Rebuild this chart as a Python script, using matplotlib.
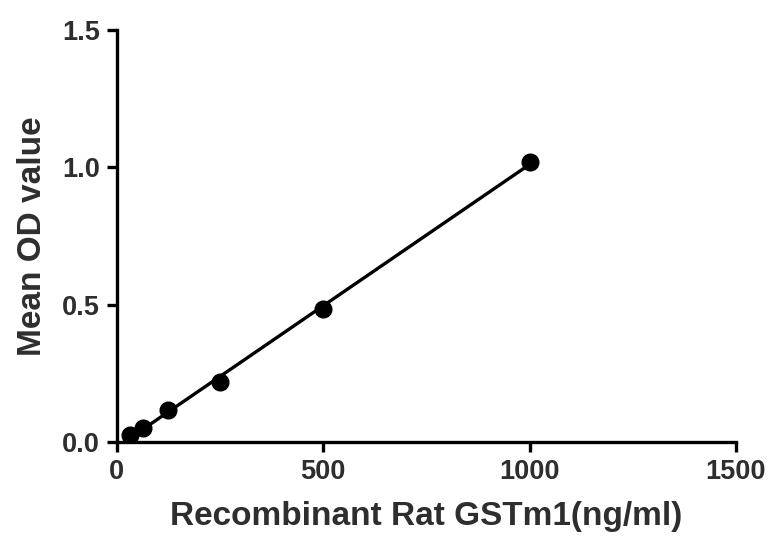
import numpy as np
import matplotlib.pyplot as plt

plt.rcParams['font.family'] = ['Liberation Sans', 'DejaVu Sans']

# Standard curve data
conc = [31.25, 62.5, 125, 250, 500, 1000]   # ng/ml
od = [0.025, 0.05, 0.115, 0.22, 0.485, 1.02]

xticks = [0, 500, 1000, 1500]
yticks = [0.0, 0.5, 1.0, 1.5]

# linear fit through the points
k, b = np.polyfit(conc, od, 1)
xf = np.array([min(conc), max(conc)])

fig = plt.figure(figsize=(7.69, 5.39), dpi=100)
ax = fig.add_axes([0.152, 0.180, 0.805, 0.764])

ax.plot(xf, k * xf + b, color='black', lw=2.4, zorder=2)
ax.plot(conc, od, 'o', color='black', ms=12, zorder=3)

ax.set_xlim(0, 1500)
ax.set_ylim(0, 1.5)
ax.set_xticks(xticks)
ax.set_yticks(yticks)
ax.set_xticklabels([str(v) for v in xticks])
ax.set_yticklabels(['%.1f' % v for v in yticks])

for s in ['top', 'right']:
    ax.spines[s].set_visible(False)
for s in ['left', 'bottom']:
    ax.spines[s].set_linewidth(2.4)
    ax.spines[s].set_color('black')
ax.tick_params(width=2.4, length=7, direction='out', labelsize=19.5,
               labelcolor='#2e2e2e', pad=5)
for lab in ax.get_xticklabels() + ax.get_yticklabels():
    lab.set_fontweight('bold')

ax.set_xlabel('Recombinant Rat GSTm1(ng/ml)', fontsize=24, color='#2e2e2e',
              fontweight='bold', labelpad=12)
ax.set_ylabel('Mean OD value', fontsize=24, color='#2e2e2e',
              fontweight='bold', labelpad=10)

fig.savefig('out.png', dpi=100)
